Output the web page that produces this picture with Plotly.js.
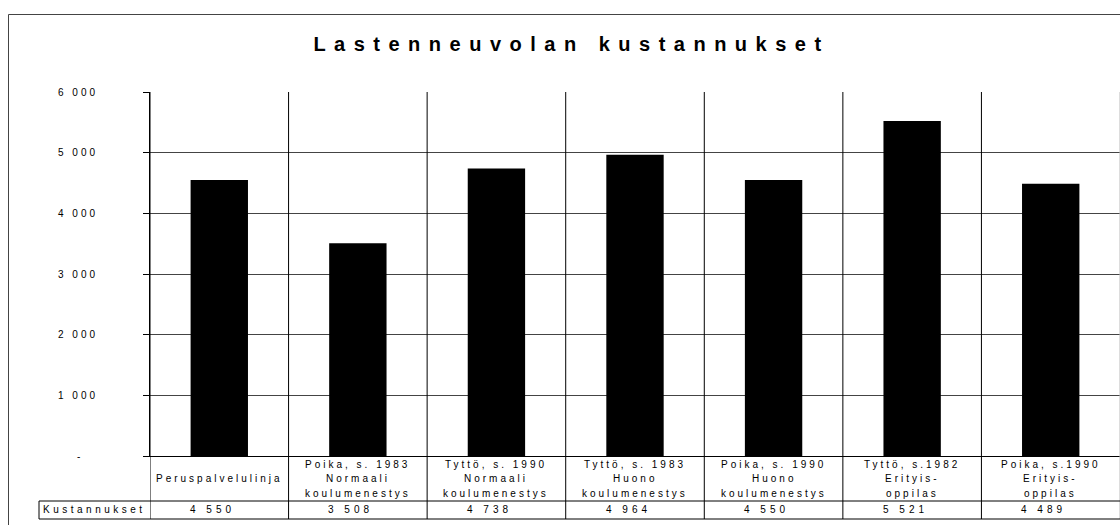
<!DOCTYPE html>
<html>
<head>
<meta charset="utf-8">
<script src="https://cdn.plot.ly/plotly-3.0.1.min.js"></script>
<style>
html,body{margin:0;padding:0;background:#fff;}
#chart{width:1120px;height:525px;}
</style>
</head>
<body>
<div id="chart"></div>
<script>
// ---- data ----
const chartTitle = "Lastenneuvolan kustannukset";
const categoryLines = [
  ["Peruspalvelulinja"],
  ["Poika, s. 1983", "Normaali", "koulumenestys"],
  ["Tyttö, s. 1990", "Normaali", "koulumenestys"],
  ["Tyttö, s. 1983", "Huono", "koulumenestys"],
  ["Poika, s. 1990", "Huono", "koulumenestys"],
  ["Tyttö, s.1982", "Erityis-", "oppilas"],
  ["Poika, s.1990", "Erityis-", "oppilas"]
];
const costs = [4550, 3508, 4738, 4964, 4550, 5521, 4489];
const rowLabel = "Kustannukset";
const yTickVals = [0, 1000, 2000, 3000, 4000, 5000, 6000];
const yTickText = ["-", "1 000", "2 000", "3 000", "4 000", "5 000", "6 000"];

// ---- layout helpers ----
const W = 1120, H = 525;
const M = {l: 150, r: 0, t: 92, b: 69};
const plotW = W - M.l - M.r, plotH = H - M.t - M.b;
const plotBottom = H - M.b;
const py = yPx => (plotBottom - yPx) / plotH;       // pixel y -> paper y
const px = xPx => (xPx - M.l) / plotW;               // pixel x -> paper x
const FONT = "Liberation Sans, Arial, sans-serif";
const ls = (t, s) => t.length > 1 ? '<span style="letter-spacing:' + s + 'px">' + t + '</span>' : t;
const fmt = v => String(v).replace(/\B(?=(\d{3})+(?!\d))/g, " ");

const cats = categoryLines.map(l => l.join(" "));

const trace = {
  type: "bar",
  x: cats,
  y: costs,
  marker: {color: "#000000", line: {width: 0}},
  hoverinfo: "skip"
};

const annotations = [];
const row1Top = plotBottom, row1Bot = 501, row2Bot = 519;
const row1Mid = (row1Top + row1Bot) / 2;
const lineGap = 14.5;
categoryLines.forEach((lines, i) => {
  const n = lines.length;
  lines.forEach((t, k) => {
    annotations.push({
      x: i, xref: "x", y: py(row1Mid + (k - (n - 1) / 2) * lineGap), yref: "paper",
      text: ls(t, 3), showarrow: false, xanchor: "center", yanchor: "middle",
      font: {family: FONT, size: 10, color: "#000"}
    });
  });
  annotations.push({
    x: i, xref: "x", y: py((row1Bot + row2Bot) / 2), yref: "paper",
    text: ls(fmt(costs[i]), 4), showarrow: false, xanchor: "center", yanchor: "middle",
    xshift: -7,
    font: {family: FONT, size: 10, color: "#000"}
  });
});
annotations.push({
  x: px(41), xref: "paper", y: py((row1Bot + row2Bot) / 2), yref: "paper",
  text: ls(rowLabel, 3.5), showarrow: false, xanchor: "left", yanchor: "middle",
  font: {family: FONT, size: 10, color: "#000"}
});
yTickVals.forEach((v, i) => {
  annotations.push({
    x: px(78), xref: "paper", y: v, yref: "y",
    text: ls(yTickText[i], 3), showarrow: false, xanchor: "center", yanchor: "middle",
    align: "center",
    font: {family: FONT, size: 10, color: "#000"}
  });
});

const shapes = [];
// outer chart border
shapes.push({type: "rect", xref: "paper", yref: "paper",
  x0: px(8.5), x1: px(1130), y0: py(14.5), y1: py(535),
  line: {color: "#444", width: 1}, fillcolor: "rgba(0,0,0,0)", layer: "above"});
// category boundary lines (plot + table)
for (let b = 0; b <= cats.length; b++) {
  shapes.push({type: "line", xref: "x", yref: "paper",
    x0: b - 0.5, x1: b - 0.5, y0: py(row2Bot), y1: 1,
    line: {color: b === cats.length ? "#bbb" : "#000", width: 1}, layer: "above"});
}
// table horizontal lines
[row1Bot, row2Bot].forEach(yy => {
  shapes.push({type: "line", xref: "paper", yref: "paper",
    x0: px(39), x1: 1, y0: py(yy), y1: py(yy),
    line: {color: "#000", width: 1}, layer: "above"});
});
// row label cell left edge
shapes.push({type: "line", xref: "paper", yref: "paper",
  x0: px(39), x1: px(39), y0: py(row1Bot), y1: py(row2Bot),
  line: {color: "#000", width: 1}, layer: "above"});

const layout = {
  width: W, height: H,
  margin: M,
  paper_bgcolor: "#fff", plot_bgcolor: "#fff",
  showlegend: false,
  bargap: 0.586,
  title: {
    text: ls(chartTitle, 8.5),
    x: 571.5 / W, xanchor: "center", xref: "container",
    y: 1 - 44 / H, yanchor: "middle", yref: "container",
    font: {family: FONT, size: 20, color: "#000", weight: "bold"}
  },
  xaxis: {
    type: "category", range: [-0.5, cats.length - 0.5],
    showticklabels: false, ticks: "", showgrid: false, zeroline: false,
    showline: true, linecolor: "#000", linewidth: 1, fixedrange: true
  },
  yaxis: {
    range: [0, 6000], tickvals: yTickVals, ticktext: yTickText,
    showticklabels: false, ticks: "outside", ticklen: 6, tickcolor: "#000",
    showgrid: true, gridcolor: "#444", gridwidth: 1, zeroline: false,
    showline: true, linecolor: "#000", linewidth: 1, fixedrange: true
  },
  annotations: annotations,
  shapes: shapes
};

Plotly.newPlot("chart", [trace], layout, {displayModeBar: false, staticPlot: true});
</script>
</body>
</html>
